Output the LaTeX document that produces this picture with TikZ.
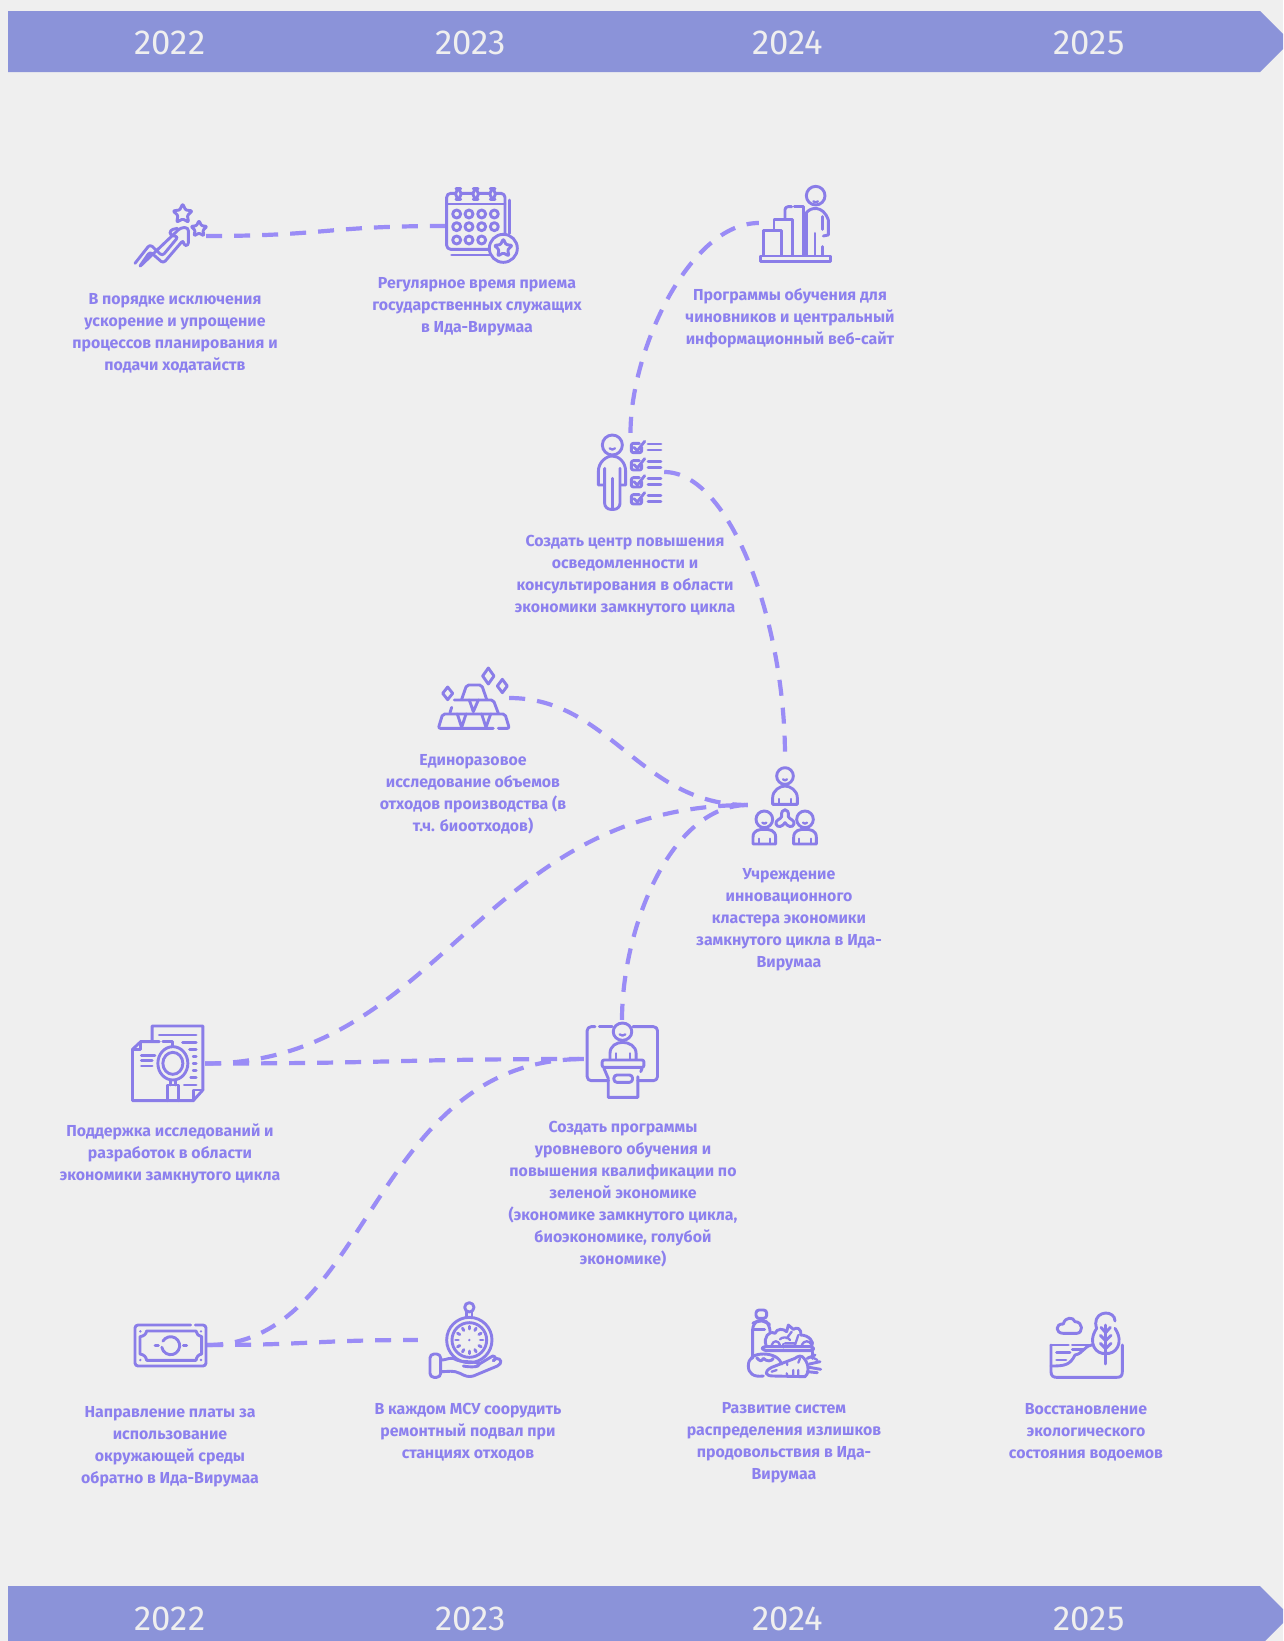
\documentclass[tikz,border=0pt]{standalone}
\usepackage{fontspec}
\setmainfont{Fira Sans}
\newfontfamily\lblfont{Fira Sans}
\newfontfamily\yrfont{Fira Sans}
\definecolor{bgc}{HTML}{EFEFEF}
\definecolor{bandc}{HTML}{8B93D9}
\definecolor{icol}{HTML}{8A7DE8}
\definecolor{linec}{HTML}{9A8CF6}
\definecolor{txtc}{HTML}{8C80EE}
\tikzset{
  ic/.style={draw=icol,line width=2.9pt,line cap=round,line join=round},
  thinic/.style={draw=icol,line width=2.3pt,line cap=round,line join=round},
  conn/.style={draw=linec,line width=4.2pt,dash pattern=on 16pt off 12pt},
  lbl/.style={font=\lblfont\bfseries\fontsize{15.9}{22}\selectfont,align=center,text=txtc,inner sep=0pt},
  yr/.style={font=\yrfont\fontsize{34.7}{40}\selectfont,text=bgc,inner sep=0pt}
}
\newcommand{\istar}[3]{%
  \draw[ic,rounded corners=1pt] ([shift={(-90:#3)}]#1,#2)
   -- ([shift={(-54:#3*0.5)}]#1,#2) -- ([shift={(-18:#3)}]#1,#2)
   -- ([shift={(18:#3*0.5)}]#1,#2) -- ([shift={(54:#3)}]#1,#2)
   -- ([shift={(90:#3*0.5)}]#1,#2) -- ([shift={(126:#3)}]#1,#2)
   -- ([shift={(162:#3*0.5)}]#1,#2) -- ([shift={(198:#3)}]#1,#2)
   -- ([shift={(234:#3*0.5)}]#1,#2) -- cycle;}
\newcommand{\idiam}[4]{\draw[ic] (#1,#2-#4) -- (#1+#3,#2) -- (#1,#2+#4) -- (#1-#3,#2) -- cycle;}
% head centre x, y, half width of the body, height of the base under the head centre
\newcommand{\iperson}[4]{%
  \begin{scope}[shift={(#1,#2)}]
  \draw[ic] (0,0) circle (25);
  \draw[thinic] (-6,10) .. controls (-3,14) and (3,14) .. (6,10);
  \draw[ic] (-#3,#4) -- (-#3,#4-20) .. controls (-#3,#4-42) and (-15,30) .. (0,30) .. controls (15,30) and (#3,#4-42) .. (#3,#4-20) -- (#3,#4) -- cycle;
  \draw[thinic] (-17,#4-16) -- (-17,#4) (17,#4-16) -- (17,#4);
  \end{scope}}
\newcommand{\icheck}[1]{%
  \begin{scope}[shift={(0,#1)}]
  \draw[ic,rounded corners=2pt] (238,820) -- (214,820) -- (214,848) -- (245,848) -- (245,832);
  \draw[ic] (222,832) -- (232,842) -- (254,814);
  \draw[ic] (264,822) -- (303,822) (264,840) -- (303,840);
  \end{scope}}
\begin{document}
\begin{tikzpicture}[x=1pt,y=-1pt]
\useasboundingbox (0,0) rectangle (1283,1641);
\fill[bgc] (0,0) rectangle (1283,1641);
\begin{scope}
\clip (0,0) rectangle (1283,1641);
\fill[bandc] (8,11) -- (1260,11) -- (1290.5,41.5) -- (1260,72) -- (8,72) -- cycle;
\fill[bandc] (8,1586) -- (1260,1586) -- (1290,1616) -- (1260,1646) -- (8,1646) -- cycle;
\end{scope}
\node[yr] (t22) at (170,42.5) {2022};
\node[yr] (t23) at (471,42.5) {2023};
\node[yr] (t24) at (788,42.5) {2024};
\node[yr] (t25) at (1089,42.5) {2025};
\node[yr] (b22) at (170,1618.5) {2022};
\node[yr] (b23) at (471,1618.5) {2023};
\node[yr] (b24) at (788,1618.5) {2024};
\node[yr] (b25) at (1089,1618.5) {2025};

% anchor boxes of the icons
\node[inner sep=0pt,minimum width=74pt,minimum height=80pt] (star) at (169,236) {};
\node[inner sep=0pt,minimum width=73pt,minimum height=76pt] (cal) at (481.5,226) {};
\node[inner sep=0pt,minimum width=73pt,minimum height=76pt] (chart) at (795.5,223) {};
\node[inner sep=0pt,minimum width=67pt,minimum height=78pt] (check) at (630.5,472) {};
\node[inner sep=0pt,minimum width=72pt,minimum height=60pt] (gold) at (473,698) {};
\node[inner sep=0pt,minimum width=74pt,minimum height=96pt] (clust) at (785,805) {};
\node[inner sep=0pt,minimum width=74pt,minimum height=80pt] (doc) at (168,1063.5) {};
\node[inner sep=0pt,minimum width=76pt,minimum height=78pt] (pod) at (622,1059) {};
\node[inner sep=0pt,minimum width=74pt,minimum height=44pt] (money) at (170,1345) {};
\node[inner sep=0pt,minimum width=74pt,minimum height=90pt] (watch) at (455,1340) {};
\node[inner sep=0pt,minimum width=74pt,minimum height=72pt] (food) at (784,1345) {};
\node[inner sep=0pt,minimum width=74pt,minimum height=66pt] (pond) at (1087,1347) {};

% connectors
\draw[conn] (star.east) .. controls +(120,0) and +(-120,0) .. (cal.west);
\draw[conn] (check.north) .. controls +(0,-83) and +(-69,0) .. (chart.west);
\draw[conn] (check.east) .. controls +(66,0) and +(0,-135) .. (clust.north);
\draw[conn] (gold.east) .. controls +(101,0) and +(-108,0) .. (clust.west);
\draw[conn] (doc.east) .. controls +(235,0) and +(-268,0) .. (clust.west);
\draw[conn] (pod.north) .. controls +(0,-90) and +(-78,0) .. (clust.west);
\draw[conn] (doc.east) .. controls +(190,0) and +(-190,0) .. (pod.west);
\draw[conn] (money.east) .. controls +(163,0) and +(-214,0) .. (pod.west);
\draw[conn] (money.east) .. controls +(105,0) and +(-105,0) .. (watch.west);

% stars
\begin{scope}[shift={(100,160)},scale=0.33333]
\draw[ic,rounded corners=3pt] (105,310) -- (150,253) -- (187,288) -- (235,230) -- (210,226) -- (210,210) -- (232,205);
\draw[ic,rounded corners=3pt] (242,203) -- (265,203) -- (265,258) -- (250,255) -- (250,240) -- (190,310) -- (150,275) -- (117,322) -- cycle;
\istar{248}{162}{30}
\istar{297}{207}{25}
\end{scope}

% calendar
\begin{scope}[shift={(100,160)},scale=0.33333]
\draw[ic,rounded corners=4pt] (1040,100) rectangle (1215,268);
\draw[ic] (1040,132) -- (1215,132);
\foreach \x in {1075,1127,1178} \draw[ic,fill=bgc,rounded corners=5pt] (\x-8,86) rectangle (\x+8,118);
\draw[ic] (1228,120) -- (1228,220) (1055,285) -- (1170,285);
\draw[ic,fill=bgc] (1210,265) circle (42);
\foreach \x in {1070,1107,1145,1183} \foreach \y in {162,200} \draw[ic] (\x,\y) circle (12);
\foreach \x in {1070,1107,1145} \draw[ic] (\x,240) circle (12);
\istar{1210}{265}{28}
\end{scope}

% chart and person
\begin{scope}[shift={(560,170)},scale=0.33333]
\draw[ic] (767,77) circle (28);
\draw[thinic] (760,94) .. controls (764,98) and (770,98) .. (774,94);
\draw[ic] (602,258) rectangle (812,275);
\draw[ic] (610,255) -- (610,182) -- (665,182) -- (665,255);
\draw[ic] (642,180) -- (642,148) -- (698,148) -- (698,255);
\draw[ic,rounded corners=3pt] (675,145) -- (675,110) -- (695,110);
\draw[ic] (703,110) -- (730,110) -- (730,255);
\draw[ic] (738,130) .. controls (750,110) and (790,105) .. (805,150) -- (805,195) -- (790,198);
\draw[ic] (740,130) -- (740,255) (765,190) -- (765,255) (788,140) -- (788,178) (788,230) -- (788,255);
\end{scope}

% check list and person
\begin{scope}[shift={(560,170)},scale=0.33333]
\draw[ic] (157,825) circle (30);
\draw[thinic] (149,835) .. controls (153,840) and (161,840) .. (165,835);
\draw[ic] (132,945) -- (115,945) -- (115,905) .. controls (115,875) and (140,858) .. (157,858) .. controls (175,858) and (197,875) .. (197,905) -- (197,945) -- (182,945);
\draw[ic,rounded corners=6pt] (134,895) -- (134,1018) -- (180,1018) -- (180,895);
\draw[ic] (157,925) -- (157,1016);
\icheck{0}
\icheck{52}
\icheck{103}
\icheck{154}
\end{scope}

% gold
\begin{scope}[shift={(420,650)},scale=0.33333]
\draw[ic,rounded corners=2pt] (125,148) -- (140,105) -- (185,105) -- (200,148);
\draw[ic,rounded corners=2pt] (90,188) -- (95,172) (103,150) -- (220,150) -- (235,190);
\draw[ic] (148,150) -- (160,185) -- (175,150);
\draw[ic,rounded corners=2pt] (220,235) -- (55,235) -- (68,192) -- (255,192) -- (268,235) -- (235,235);
\draw[ic] (112,192) -- (125,232) -- (138,192) (185,192) -- (198,232) -- (212,192);
\idiam{205}{78}{17}{24}
\idiam{247}{108}{15}{20}
\idiam{83}{130}{15}{19}
\end{scope}

% cluster
\begin{scope}[shift={(420,650)},scale=0.33333]
\iperson{1095}{378}{37}{85}
\iperson{1033}{508}{34}{74}
\iperson{1155}{508}{34}{74}
\draw[ic] (1085,500) .. controls (1080,472) and (1110,472) .. (1105,500) .. controls (1108,508) and (1125,510) .. (1122,522) .. controls (1118,535) and (1102,530) .. (1095,518) .. controls (1088,530) and (1072,535) .. (1068,522) .. controls (1065,510) and (1082,508) .. (1085,500);
\end{scope}

% document and magnifier
\begin{scope}[shift={(120,1010)},xscale=0.35714,yscale=0.33333]
\draw[ic] (90,92) -- (90,48) -- (232,48) -- (232,240) -- (205,272) -- (35,272) -- (35,118) -- (58,95) -- (110,95);
\draw[ic] (120,95) -- (148,95) -- (148,108);
\draw[ic] (35,118) -- (58,118) -- (58,95) (205,272) -- (205,240) -- (232,240);
\draw[ic] (110,75) -- (213,75) (175,97) -- (213,97) (195,118) -- (213,118) (205,139) -- (213,139) (205,160) -- (213,160) (205,182) -- (213,182) (198,203) -- (213,203) (180,225) -- (213,225);
\draw[ic] (60,136) -- (98,136) (60,152) -- (90,152) (60,168) -- (90,168);
\draw[ic] (148,160) ellipse (42 and 50);
\draw[ic] (148,160) ellipse (28 and 33);
\draw[ic] (142,210) -- (142,225) (155,210) -- (155,225);
\draw[ic] (132,272) -- (132,225) -- (165,225) -- (165,272);
\end{scope}

% podium
\begin{scope}[shift={(120,1010)},xscale=0.35714,yscale=0.33333]
\draw[ic,rounded corners=4pt] (1330,50) -- (1308,50) -- (1308,212) -- (1368,212);
\draw[ic] (1342,50) -- (1378,50);
\draw[ic,rounded corners=4pt] (1436,50) -- (1505,50) -- (1505,212) -- (1450,212);
\draw[ic,fill=bgc] (1407,65) circle (26);
\draw[thinic] (1399,73) .. controls (1403,78) and (1411,78) .. (1415,73);
\draw[ic] (1372,148) -- (1372,130) .. controls (1372,108) and (1390,97) .. (1407,97) .. controls (1425,97) and (1445,108) .. (1445,130) -- (1445,148);
\draw[thinic] (1388,130) -- (1388,148) (1427,130) -- (1427,148);
\draw[ic,rounded corners=2pt] (1350,150) rectangle (1467,172);
\draw[ic] (1355,175) -- (1367,205) -- (1367,262) -- (1450,262) -- (1450,200) (1462,175) -- (1458,185);
\draw[ic,rounded corners=3pt] (1383,195) rectangle (1435,217);
\end{scope}

% banknote
\begin{scope}[shift={(120,1290)},scale=0.33333]
\draw[ic,rounded corners=3pt] (212,105) -- (45,105) -- (45,228) -- (258,228) -- (258,105) -- (226,105);
\draw[ic] (80,123) -- (228,123) .. controls (230,133) and (235,138) .. (245,140) -- (245,192) .. controls (235,194) and (230,200) .. (228,211) -- (80,211) .. controls (78,200) and (72,194) .. (60,192) -- (60,140) .. controls (72,138) and (78,133) .. (80,123) -- cycle;
\draw[ic] ([shift={(-150:27)}]152,167) arc[start angle=-150,end angle=170,radius=27];
\draw[ic] (105,167) -- (115,167) (190,167) -- (200,167);
\fill[icol] (61,124) circle (4) (243,124) circle (4) (61,210) circle (4) (243,210) circle (4);
\end{scope}

% hand and stop watch
\begin{scope}[shift={(120,1290)},scale=0.33333]
\draw[ic] (1048,52) circle (14);
\draw[ic] (1040,66) -- (1040,82) (1056,66) -- (1056,82);
\draw[ic] (1048,150) circle (68);
\draw[ic] (1048,150) circle (52);
\foreach \a in {0,30,...,330} \draw[ic] ([shift={(\a:33)}]1048,150) -- ([shift={(\a:41)}]1048,150);
\fill[icol] (1048,150) circle (4);
\draw[ic,fill=bgc,rounded corners=4pt] (930,192) rectangle (962,262);
\draw[ic] (962,210) .. controls (985,210) and (990,198) .. (1010,210) .. controls (1030,218) and (1065,212) .. (1078,222) .. controls (1080,232) and (1050,232) .. (1030,228);
\draw[ic] (1078,222) -- (1118,198) .. controls (1128,198) and (1128,208) .. (1120,212);
\draw[ic] (1120,212) -- (1128,205) .. controls (1145,205) and (1148,220) .. (1132,228) -- (1060,258) .. controls (1045,262) and (1035,258) .. (1020,250) .. controls (1000,240) and (985,245) .. (962,245);
\end{scope}

% food
\begin{scope}[shift={(730,1290)},scale=0.33333]
\draw[ic,rounded corners=3pt] (78,60) rectangle (110,85);
\draw[ic,rounded corners=6pt] (68,205) -- (68,100) -- (85,92) -- (105,92) -- (120,105) -- (120,125);
\draw[ic] (68,118) -- (104,118);
\draw[ic,rounded corners=3pt] (95,170) -- (250,170) -- (250,182) -- (100,182) -- cycle;
\draw[ic] (248,185) -- (248,205);
\draw[ic] (108,165) .. controls (100,145) and (115,120) .. (135,130) .. controls (140,115) and (160,115) .. (170,125) -- (175,105) -- (190,118) .. controls (200,110) and (215,115) .. (212,135) .. controls (235,135) and (255,155) .. (245,170);
\draw[thinic] (125,165) .. controls (130,150) and (145,150) .. (150,165) (150,148) .. controls (155,140) and (175,140) .. (180,150) (185,125) -- (170,145) (205,135) -- (195,165) (165,160) -- (195,160) (160,172) -- (160,162) (215,165) .. controls (222,150) and (238,150) .. (245,165);
\draw[ic] (100,258) .. controls (70,262) and (55,250) .. (55,228) .. controls (55,205) and (70,192) .. (100,192) .. controls (130,192) and (150,205) .. (155,222);
\draw[ic] (80,203) .. controls (90,215) and (95,215) .. (100,205) .. controls (110,215) and (125,215) .. (130,205);
\draw[ic] (130,258) -- (225,260) .. controls (235,255) and (240,225) .. (222,205) .. controls (215,195) and (205,197) .. (195,205) -- (125,232) .. controls (100,245) and (105,258) .. (130,258);
\draw[thinic] (170,215) -- (172,225) (210,205) -- (205,218) (125,245) -- (140,240) (170,250) -- (172,258) (190,240) -- (190,258) (205,240) -- (205,258);
\draw[ic] (232,205) -- (255,195) (238,222) -- (270,215) (238,232) -- (272,238) (232,245) -- (262,248);
\draw[thinic] (232,205) .. controls (240,198) and (248,202) .. (262,210);
\end{scope}

% pond and tree
\begin{scope}[shift={(730,1290)},scale=0.33333]
\draw[ic] (1000,130) .. controls (975,130) and (975,100) .. (1000,102) .. controls (1005,80) and (1030,80) .. (1035,95) .. controls (1060,95) and (1060,130) .. (1040,130) -- cycle;
\draw[ic] (963,165) -- (963,245) .. controls (963,258) and (970,262) .. (980,262) -- (1160,262) .. controls (1172,262) and (1177,258) .. (1177,245) -- (1177,165);
\draw[ic] (963,165) -- (1015,165) (1027,165) -- (1085,165);
\draw[ic] (1085,165) .. controls (1060,170) and (1060,190) .. (1035,195) .. controls (1020,225) and (1005,228) .. (963,228);
\draw[ic] (1027,178) -- (1060,178) (980,188) -- (1020,188) (980,210) -- (1008,210);
\draw[ic] (1155,93) .. controls (1155,60) and (1097,60) .. (1097,100) .. controls (1097,110) and (1100,112) .. (1100,115) .. controls (1070,160) and (1100,195) .. (1127,190) .. controls (1155,195) and (1185,160) .. (1155,115);
\draw[ic] (1127,105) -- (1127,222);
\draw[ic] (1127,128) -- (1113,112) (1127,128) -- (1141,112) (1127,152) -- (1111,136) (1127,152) -- (1143,136) (1127,176) -- (1111,160) (1127,176) -- (1143,160);
\end{scope}

% labels
\node[lbl] (l1) at (175,333) {В порядке исключения\\ускорение и упрощение\\процессов планирования и\\подачи ходатайств};
\node[lbl] (l2) at (477,306.5) {Регулярное время приема\\государственных служащих\\в Ида-Вирумаа};
\node[lbl] (l3) at (790,318) {Программы обучения для\\чиновников и центральный\\информационный веб-сайт};
\node[lbl] (l4) at (625,576) {Создать центр повышения\\осведомленности и\\консультирования в области\\экономики замкнутого цикла};
\node[lbl] (l5) at (473,794) {Единоразовое\\исследование объемов\\отходов производства (в\\т.ч. биоотходов)};
\node[lbl] (l6) at (789,920) {Учреждение\\инновационного\\кластера экономики\\замкнутого цикла в Ида-\\Вирумаа};
\node[lbl] (l7) at (170,1154) {Поддержка исследований и\\разработок в области\\экономики замкнутого цикла};
\node[lbl] (l8) at (623,1194.5) {Создать программы\\уровневого обучения и\\повышения квалификации по\\зеленой экономике\\(экономике замкнутого цикла,\\биоэкономике, голубой\\экономике)};
\node[lbl] (l9) at (170,1447) {Направление платы за\\использование\\окружающей среды\\обратно в Ида-Вирумаа};
\node[lbl] (l10) at (468,1432.6) {В каждом МСУ соорудить\\ремонтный подвал при\\станциях отходов};
\node[lbl] (l11) at (784,1442.5) {Развитие систем\\распределения излишков\\продовольствия в Ида-\\Вирумаа};
\node[lbl] (l12) at (1086,1432.6) {Восстановление\\экологического\\состояния водоемов};
\end{tikzpicture}
\end{document}
